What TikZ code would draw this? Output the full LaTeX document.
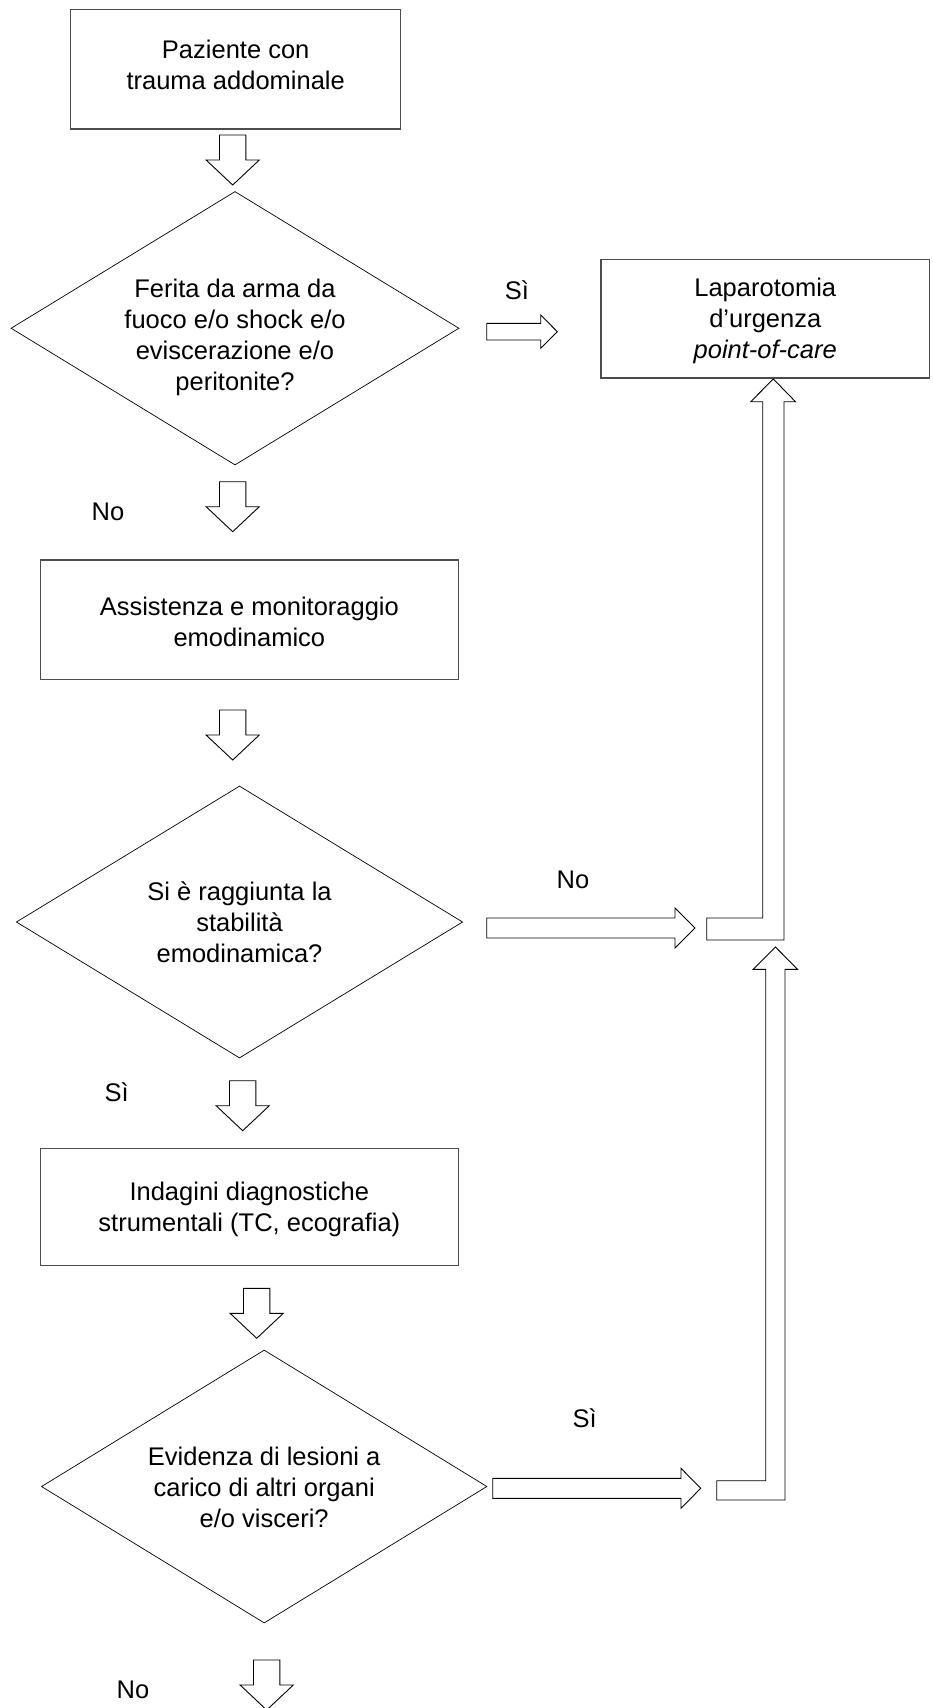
\documentclass[tikz,border=0pt]{standalone}
\usepackage{fontspec}
\setmainfont{Liberation Sans}
\usetikzlibrary{shapes.geometric}
\tikzset{
  box/.style={draw=black!70, line width=1.2pt, fill=white, rectangle, inner sep=0pt},
  dia/.style={draw=black, line width=0.7pt, shape=diamond, inner sep=0pt},
  txt/.style={align=center, inner sep=0pt, font=\fontsize{25.5}{31}\selectfont},
  lbl/.style={inner sep=0pt, font=\fontsize{25.5}{31}\selectfont},
  blk/.style={draw=black, line width=0.9pt, fill=white, line join=miter},
  darrow/.pic={\draw[blk] (-13.2,0) -- (13.2,0) -- (13.2,25) -- (26.6,25) -- (0,50) -- (-26.6,25) -- (-13.2,25) -- cycle;}
}
\begin{document}
\begin{tikzpicture}[x=1pt,y=-1pt]
\useasboundingbox (0,0) rectangle (932,1708);
\fill[white] (0,0) rectangle (932,1708);

% boxes
\node[box, minimum width=330pt, minimum height=119.5pt] (b1) at (235.7,69.25) {};
\node[txt] (t1) at (235.7,65) {Paziente con\\trauma addominale};

\node[box, minimum width=328.5pt, minimum height=118.5pt] (lap) at (765.25,318.75) {};
\node[txt] (tlap) at (765.25,321) {Laparotomia\\d’urgenza\\\textit{point-of-care}};

\node[box, minimum width=418pt, minimum height=119.4pt] (b2) at (249.35,619.7) {};
\node[txt] (t2) at (249.35,622) {Assistenza e monitoraggio\\emodinamico};

\node[box, minimum width=418pt, minimum height=117pt] (b3) at (249.35,1206.75) {};
\node[txt] (t3) at (249.35,1209) {Indagini diagnostiche\\strumentali (TC, ecografia)};

% diamonds
\node[dia, minimum width=448pt, minimum height=273.5pt] (d1) at (235,328.25) {};
\node[txt] (td1) at (235,337) {Ferita da arma da\\fuoco e/o shock e/o\\eviscerazione e/o\\peritonite?};

\node[dia, minimum width=446.4pt, minimum height=272pt] (d2) at (239.5,922) {};
\node[txt] (td2) at (239.5,922) {Si è raggiunta la\\stabilità\\emodinamica?};

\node[dia, minimum width=445.6pt, minimum height=273pt] (d3) at (264.2,1486.5) {};
\node[txt] (td3) at (264.2,1487) {Evidenza di lesioni a\\carico di altri organi\\e/o visceri?};

% labels
\node[lbl] (l1) at (517,290) {Sì};
\node[lbl] (l2) at (108,512) {No};
\node[lbl] (l3) at (573,880) {No};
\node[lbl] (l4) at (116.7,1092) {Sì};
\node[lbl] (l5) at (584.7,1418) {Sì};
\node[lbl] (l6) at (133,1690) {No};

% down block arrows
\pic at (232.7,135) {darrow};
\pic at (232.7,481.7) {darrow};
\pic at (232.7,710) {darrow};
\pic at (242.7,1080.7) {darrow};
\pic at (256.7,1288.3) {darrow};
\pic at (266.7,1660) {darrow};

% right block arrows
\draw[blk] (486.7,323.3) -- (540.7,323.3) -- (540.7,315) -- (557.3,331.7) -- (540.7,348.3) -- (540.7,340) -- (486.7,340) -- cycle;
\draw[blk] (486.7,918) -- (675,918) -- (675,908) -- (695,928) -- (675,948) -- (675,938) -- (486.7,938) -- cycle;
\draw[blk] (492.7,1478.3) -- (681,1478.3) -- (681,1468.3) -- (700.7,1488.3) -- (681,1508.3) -- (681,1498.3) -- (492.7,1498.3) -- cycle;

% bent up block arrows
\draw[blk] (706.7,918) -- (762.7,918) -- (762.7,401.7) -- (750.7,401.7) -- (773.3,379) -- (795.5,401.7) -- (784,401.7) -- (784,940) -- (706.7,940) -- cycle;
\draw[blk] (716.7,1480.7) -- (765.7,1480.7) -- (765.7,969.3) -- (753.2,969.3) -- (775.4,947) -- (797.6,969.3) -- (785,969.3) -- (785,1500) -- (716.7,1500) -- cycle;
\end{tikzpicture}
\end{document}
